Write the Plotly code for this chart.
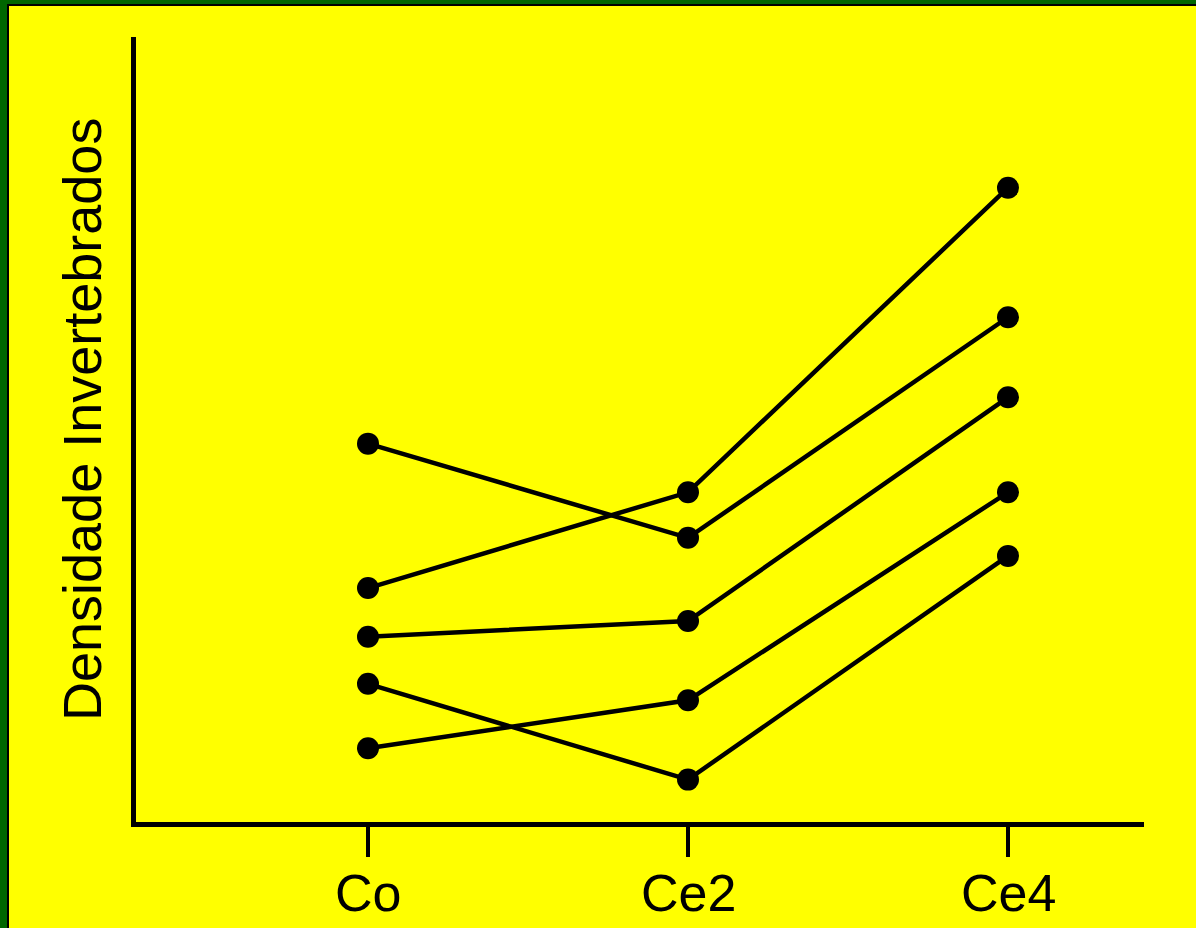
import plotly.graph_objects as go

categories = ["Co", "Ce2", "Ce4"]
series_a = [48.2, 36.2, 64.3]
series_b = [29.8, 42.0, 80.8]
series_c = [23.6, 25.6, 54.1]
series_d = [17.6, 5.4, 33.9]
series_e = [9.4, 15.5, 42.0]
all_series = [series_a, series_b, series_c, series_d, series_e]
y_title = "Densidade Invertebrados"

W, H = 1196, 928
L, R, T, B = 136, 52, 37, 106
pw, ph = W - L - R, H - T - B

def fx(px):
    return (px - L) / pw

def fy(py):
    return (H - B - py) / ph

fig = go.Figure()
for s in all_series:
    fig.add_trace(go.Scatter(
        x=categories, y=s, mode="lines+markers",
        line=dict(color="black", width=4.5),
        marker=dict(color="black", size=22),
        cliponaxis=False, showlegend=False, hoverinfo="skip"))

green = "#006600"
shapes = [
    dict(type="rect", xref="paper", yref="paper", x0=fx(0), x1=fx(7), y0=fy(H), y1=fy(0),
         fillcolor=green, line=dict(width=0)),
    dict(type="rect", xref="paper", yref="paper", x0=fx(0), x1=fx(W), y0=fy(4), y1=fy(0),
         fillcolor=green, line=dict(width=0)),
    dict(type="rect", xref="paper", yref="paper", x0=fx(7), x1=fx(9), y0=fy(H), y1=fy(4),
         fillcolor="black", line=dict(width=0)),
    dict(type="rect", xref="paper", yref="paper", x0=fx(7), x1=fx(W), y0=fy(6), y1=fy(4),
         fillcolor="black", line=dict(width=0)),
]

annotations = [dict(
    text=y_title, textangle=-90, xref="paper", yref="paper",
    x=fx(82), y=fy(420), xanchor="center", yanchor="middle",
    showarrow=False, font=dict(size=54, color="black"))]
for c in categories:
    annotations.append(dict(
        text=c, xref="x", yref="paper", x=c, y=fy(893),
        xanchor="center", yanchor="middle", showarrow=False,
        font=dict(size=52, color="black")))

fig.update_layout(
    width=W, height=H,
    margin=dict(l=L, r=R, t=T, b=B),
    paper_bgcolor="#FFFF00", plot_bgcolor="#FFFF00",
    font=dict(family="Liberation Sans, Arial, sans-serif", color="black"),
    shapes=shapes,
    xaxis=dict(
        type="category", range=[-0.725, 2.425], automargin=False,
        showline=True, linecolor="black", linewidth=5,
        ticks="outside", ticklen=30, tickwidth=4, tickcolor="black",
        showticklabels=False,
        showgrid=False, zeroline=False, fixedrange=True),
    yaxis=dict(
        range=[0, 100], automargin=False,
        showline=True, linecolor="black", linewidth=5,
        showticklabels=False, ticks="", showgrid=False, zeroline=False,
        fixedrange=True),
    annotations=annotations,
)

fig.write_html("out.html", config={"displayModeBar": False},
               post_script="document.body.style.margin='0';document.body.style.overflow='hidden';")
